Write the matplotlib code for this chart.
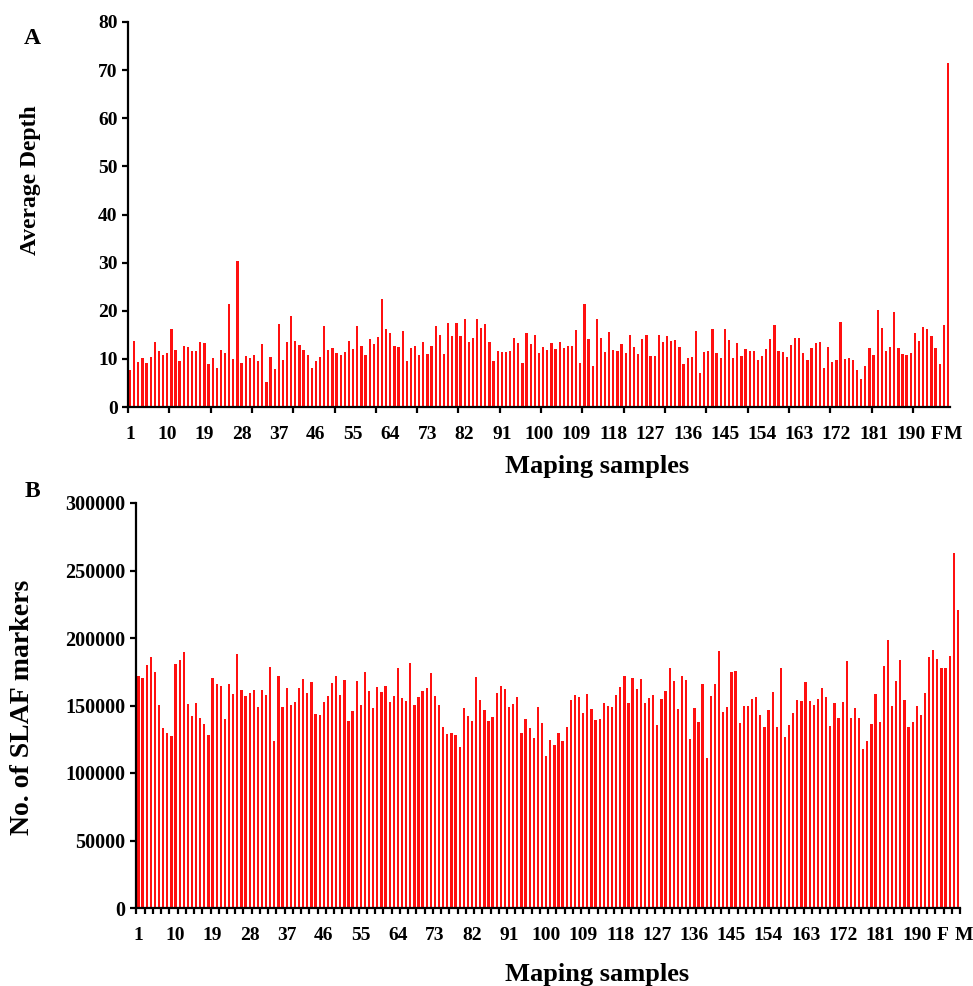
import numpy as np
import matplotlib
matplotlib.use("Agg")
import matplotlib.pyplot as plt
import matplotlib.transforms as mtransforms

plt.rcParams["font.family"] = ["Liberation Serif", "DejaVu Serif"]
plt.rcParams["font.weight"] = "bold"

# Panel A: average sequencing depth per mapping sample (1..197, then F, M)
depth = [
    7.6, 13.7, 9.4, 10.1, 9.2, 10.3, 13.5, 11.6, 10.8, 11.3,
    16.3, 11.9, 9.5, 12.6, 12.5, 11.6, 11.6, 13.5, 13.3, 8.9,
    10.1, 8.1, 11.9, 11.3, 21.5, 9.9, 30.3, 9.2, 10.6, 10.1,
    10.8, 9.5, 13.1, 5.2, 10.4, 7.8, 17.2, 9.7, 13.5, 18.9,
    13.7, 12.9, 11.9, 10.8, 8.1, 9.5, 10.3, 16.8, 11.8, 12.3,
    11.2, 10.9, 11.4, 13.8, 12.1, 16.9, 12.7, 10.8, 14.2, 13.1,
    14.6, 22.4, 16.3, 15.4, 12.7, 12.5, 15.7, 9.6, 12.3, 12.6,
    10.8, 13.6, 11.0, 12.7, 16.8, 14.9, 11.0, 17.4, 14.7, 17.4,
    14.7, 18.3, 13.5, 14.4, 18.3, 16.5, 17.2, 13.5, 9.6, 11.7,
    11.4, 11.4, 11.6, 14.4, 13.4, 9.2, 15.4, 13.1, 15.0, 11.2,
    12.5, 11.9, 13.3, 12.1, 13.5, 12.3, 12.7, 12.7, 16.0, 9.2,
    21.4, 14.2, 8.6, 18.2, 14.4, 11.4, 15.5, 11.9, 11.6, 13.1,
    11.2, 14.9, 12.4, 11.0, 14.2, 14.9, 10.5, 10.5, 14.9, 13.5,
    14.7, 13.8, 13.9, 12.5, 8.9, 10.1, 10.3, 15.7, 7.1, 11.4,
    11.6, 16.3, 11.3, 10.1, 16.2, 14.0, 10.1, 13.3, 10.6, 12.0,
    11.7, 11.7, 9.7, 10.6, 12.1, 14.2, 17.0, 11.7, 11.4, 10.3,
    12.9, 14.4, 14.4, 11.3, 9.7, 12.2, 13.3, 13.5, 8.2, 12.5,
    9.4, 9.7, 17.6, 9.9, 10.1, 9.7, 7.6, 5.9, 8.5, 12.3,
    10.8, 20.1, 16.5, 11.7, 12.5, 19.7, 12.3, 11.0, 10.8, 11.2,
    15.3, 13.8, 16.6, 16.3, 14.8, 12.3, 9.0, 17.0, 71.5,
]

# Panel B: number of SLAF markers per mapping sample (thousands)
slaf_k = [
    171.9, 170.6, 180.1, 186.1, 174.9, 150.5, 133.1, 129.9, 127.1, 180.8,
    183.6, 189.6, 151.0, 142.5, 151.7, 140.5, 136.6, 128.4, 170.6, 165.9,
    164.4, 139.8, 165.9, 158.5, 188.1, 161.2, 156.7, 159.2, 161.7, 149.0,
    161.7, 157.5, 178.6, 123.4, 171.9, 149.0, 162.7, 150.5, 152.5, 162.7,
    169.7, 159.5, 167.4, 143.5, 143.3, 152.5, 156.7, 166.4, 172.1, 157.7,
    168.7, 138.6, 146.0, 167.9, 150.5, 174.9, 160.7, 148.0, 163.7, 160.2,
    164.7, 152.5, 157.2, 177.6, 155.2, 153.2, 181.6, 150.5, 156.0, 160.7,
    163.2, 174.1, 157.2, 150.5, 134.3, 129.1, 129.9, 128.4, 118.9, 147.8,
    142.5, 138.3, 171.4, 154.0, 146.5, 138.3, 141.8, 159.2, 164.7, 161.9,
    149.0, 151.2, 156.0, 129.6, 139.8, 133.1, 125.9, 149.0, 137.1, 112.4,
    124.1, 120.9, 129.6, 123.4, 134.3, 154.0, 157.7, 156.5, 144.5, 158.2,
    147.3, 139.3, 139.8, 152.2, 150.0, 148.8, 157.7, 163.9, 172.1, 152.0,
    170.1, 161.9, 169.4, 152.0, 155.7, 157.5, 135.8, 154.7, 160.4, 177.6,
    168.2, 147.5, 171.6, 168.9, 125.4, 148.0, 137.6, 166.2, 111.2, 156.7,
    166.2, 190.3, 145.5, 148.8, 174.9, 175.9, 136.8, 149.3, 149.3, 155.0,
    156.5, 142.8, 133.8, 146.5, 160.2, 133.8, 177.6, 126.4, 135.3, 144.8,
    154.0, 153.0, 167.4, 153.2, 150.5, 154.7, 162.9, 156.0, 134.6, 151.5,
    140.5, 152.5, 183.1, 140.5, 148.0, 140.5, 117.9, 123.4, 136.1, 158.7,
    137.8, 179.1, 198.3, 150.0, 168.2, 183.6, 154.0, 133.8, 137.8, 150.0,
    142.8, 159.5, 185.8, 190.8, 184.6, 178.1, 178.1, 186.3, 262.8, 220.6,
]
slaf = [v * 1000 for v in slaf_k]

num_labels = [str(v) for v in range(1, 191, 9)]
tick_labels = num_labels + ["F", "M"]

RED = "#ff1010"
W, H = 973, 986

fig = plt.figure(figsize=(W / 100, H / 100), dpi=100)
axA = fig.add_axes([128 / W, 1 - 407 / H, (950 - 128) / W, (407 - 22) / H])
axB = fig.add_axes([136 / W, 1 - 908 / H, (960 - 136) / W, (908 - 503) / H])


def style(ax, lab_pos, ytick_size, base_off, major):
    for s in ("top", "right"):
        ax.spines[s].set_visible(False)
    for s in ("left", "bottom"):
        ax.spines[s].set_linewidth(1.6)
    ax.tick_params(axis="both", direction="out", width=1.6, length=4.5)
    ax.tick_params(axis="y", labelsize=ytick_size, pad=3)
    ax.set_xticks(major)
    ax.set_xticklabels([])
    trans = mtransforms.blended_transform_factory(ax.transData, ax.transAxes)
    for x, t in zip(lab_pos, tick_labels):
        ax.text(x, -base_off, t, transform=trans, ha="center", va="baseline",
                fontsize=14, fontweight="bold", clip_on=False)


# --- panel A
xA = np.arange(1, len(depth) + 1)
axA.bar(xA, depth, width=0.55, color=RED, linewidth=0)
axA.set_xlim(0.5, 199.5)
axA.set_ylim(0, 80)
axA.set_yticks(np.arange(0, 81, 10))
style(axA, list(range(1, 191, 9)) + [196.3, 200.2], 14, 0.082,
      np.arange(0.5, 191, 10))

# --- panel B
xB = np.arange(1, len(slaf) + 1)
axB.bar(xB, slaf, width=0.55, color=RED, linewidth=0)
axB.set_xlim(0.4, 200.5)
axB.set_ylim(0, 300000)
axB.set_yticks(np.arange(0, 300001, 50000))
axB.set_yticklabels([str(v) for v in range(0, 300001, 50000)])
style(axB, list(range(1, 191, 9)) + [196.2, 201.4], 14.5, 0.078,
      np.arange(0.5, 201, 2))
axB.tick_params(axis="x", length=4)

# labels
fig.text(32 / W, 1 - 38 / H, "A", fontsize=17, fontweight="bold",
         ha="center", va="center")
fig.text(32 / W, 1 - 492 / H, "B", fontsize=17, fontweight="bold",
         ha="center", va="center")
fig.text(31 / W, 1 - 180 / H, "Average Depth", fontsize=17, fontweight="bold",
         rotation=90, ha="center", va="center")
fig.text(23 / W, 1 - 707 / H, "No. of SLAF markers", fontsize=20,
         fontweight="bold", rotation=90, ha="center", va="center")
fig.text(597 / W, 1 - 466 / H, "Maping samples", fontsize=19,
         fontweight="bold", ha="center", va="center")
fig.text(597 / W, 1 - 975 / H, "Maping samples", fontsize=19,
         fontweight="bold", ha="center", va="center")

fig.savefig("out.png", dpi=100)
